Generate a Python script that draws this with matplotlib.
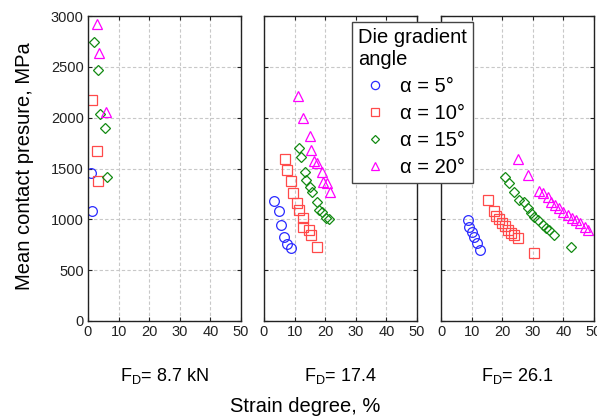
import numpy as np
import matplotlib
matplotlib.use("Agg")
import matplotlib.pyplot as plt

plt.rcParams['font.family'] = ['Liberation Sans', 'DejaVu Sans']
plt.rcParams['mathtext.default'] = 'regular'

# panel titles (die force)
panel_labels = ["F$_D$= 8.7 kN", "F$_D$= 17.4", "F$_D$= 26.1"]
series_labels = ["α = 5°", "α = 10°", "α = 15°", "α = 20°"]

# panel 1, F_D = 8.7 kN
p1_a5_x = [0.9, 1.4]
p1_a5_y = [1460, 1085]
p1_a10_x = [1.4, 2.8, 3.4]
p1_a10_y = [2170, 1675, 1380]
p1_a15_x = [2.0, 3.4, 3.9, 5.4, 6.1]
p1_a15_y = [2740, 2465, 2035, 1895, 1415]
p1_a20_x = [3.1, 3.7, 5.8]
p1_a20_y = [2920, 2635, 2055]

# panel 2, F_D = 17.4
p2_a5_x = [3.4, 4.8, 5.4, 6.6, 7.5, 8.8]
p2_a5_y = [1183, 1085, 944, 829, 757, 715]
p2_a10_x = [6.7, 7.5, 8.8, 9.4, 10.8, 11.3, 12.7, 12.9, 14.6, 15.3, 17.3]
p2_a10_y = [1597, 1485, 1377, 1262, 1157, 1092, 1010, 928, 895, 846, 731]
p2_a15_x = [11.3, 12.1, 13.3, 13.8, 14.9, 15.7, 17.3, 17.9, 19.0, 20.1, 21.2]
p2_a15_y = [1705, 1616, 1469, 1387, 1321, 1272, 1174, 1092, 1075, 1010, 1003]
p2_a20_x = [11.1, 12.7, 14.9, 15.3, 16.2, 17.3, 18.8, 19.2, 20.6, 21.5]
p2_a20_y = [2213, 2000, 1823, 1682, 1577, 1551, 1469, 1370, 1354, 1272]

# panel 3, F_D = 26.1
p3_a5_x = [8.8, 9.3, 10.2, 10.7, 11.8, 12.9]
p3_a5_y = [993, 928, 878, 823, 764, 698]
p3_a10_x = [15.3, 17.2, 18.0, 18.8, 19.9, 20.8, 21.9, 22.8, 23.8, 25.2, 30.3]
p3_a10_y = [1190, 1085, 1030, 1000, 960, 935, 900, 870, 845, 815, 670]
p3_a15_x = [20.8, 22.2, 23.7, 25.5, 27.0, 28.3, 29.4, 30.5, 31.6, 33.2, 34.3, 35.4, 36.8, 42.5]
p3_a15_y = [1420, 1360, 1272, 1190, 1174, 1108, 1059, 1026, 993, 944, 911, 895, 846, 731]
p3_a20_x = [25.2, 28.5, 32.1, 33.2, 34.9, 36.0, 37.3, 38.7, 39.8, 41.4, 42.8, 44.2, 45.5, 46.9, 48.0]
p3_a20_y = [1590, 1436, 1282, 1262, 1216, 1174, 1141, 1108, 1075, 1043, 1010, 993, 967, 928, 895]

panels = [
    [(p1_a5_x, p1_a5_y), (p1_a10_x, p1_a10_y), (p1_a15_x, p1_a15_y), (p1_a20_x, p1_a20_y)],
    [(p2_a5_x, p2_a5_y), (p2_a10_x, p2_a10_y), (p2_a15_x, p2_a15_y), (p2_a20_x, p2_a20_y)],
    [(p3_a5_x, p3_a5_y), (p3_a10_x, p3_a10_y), (p3_a15_x, p3_a15_y), (p3_a20_x, p3_a20_y)],
]

markers = ['o', 's', 'D', '^']
sizes = [7, 7, 5.2, 7]
colors = ['#2b2bff', '#ff4a4a', '#128a12', '#ff00ff']

W, H = 597, 417
fig = plt.figure(figsize=(W / 100, H / 100), dpi=100)

lefts = [88, 264, 441]
handles = []
for i, left in enumerate(lefts):
    ax = fig.add_axes([left / W, 1 - 321 / H, 153 / W, 305 / H])
    for j, (xs, ys) in enumerate(panels[i]):
        h, = ax.plot(xs, ys, linestyle='none', marker=markers[j], markersize=sizes[j],
                     mfc='none', mec=colors[j], mew=0.9, label=series_labels[j])
        if i == 0:
            handles.append(h)
    ax.set_xlim(0, 50)
    ax.set_ylim(0, 3000)
    ax.set_xticks(np.arange(0, 51, 10))
    ax.set_yticks(np.arange(0, 3001, 500))
    ax.grid(True, color='#c8c8c8', linestyle=(0, (3, 2)), linewidth=0.8)
    ax.tick_params(direction='in', length=3, width=0.8, top=True, right=True,
                   labelsize=10.5, pad=3, colors='#222222')
    for sp in ax.spines.values():
        sp.set_color('#222222')
        sp.set_linewidth(1.0)
    if i > 0:
        ax.set_yticklabels([])
    fig.text((left + 76.5) / W, 1 - 376 / H, panel_labels[i], ha='center', va='center',
             fontsize=13)

fig.text(25 / W, 1 - 166 / H, "Mean contact presure, MPa", rotation=90,
         ha='center', va='center', fontsize=14.5)
fig.text(305 / W, 1 - 407 / H, "Strain degree, %", ha='center', va='center', fontsize=14.5)

leg = fig.legend(handles=handles, title="Die gradient\nangle", loc='upper left',
                 bbox_to_anchor=(352 / W, 1 - 22 / H), borderaxespad=0,
                 fontsize=14.5, title_fontsize=14.5,
                 frameon=True, fancybox=False, edgecolor='#444444', framealpha=1,
                 borderpad=0.3, handletextpad=0.4, labelspacing=0.4, handlelength=1.7,
                 markerscale=0.85)
leg._legend_box.align = 'left'
leg.get_frame().set_linewidth(1.0)

fig.savefig("out.png", dpi=100)
